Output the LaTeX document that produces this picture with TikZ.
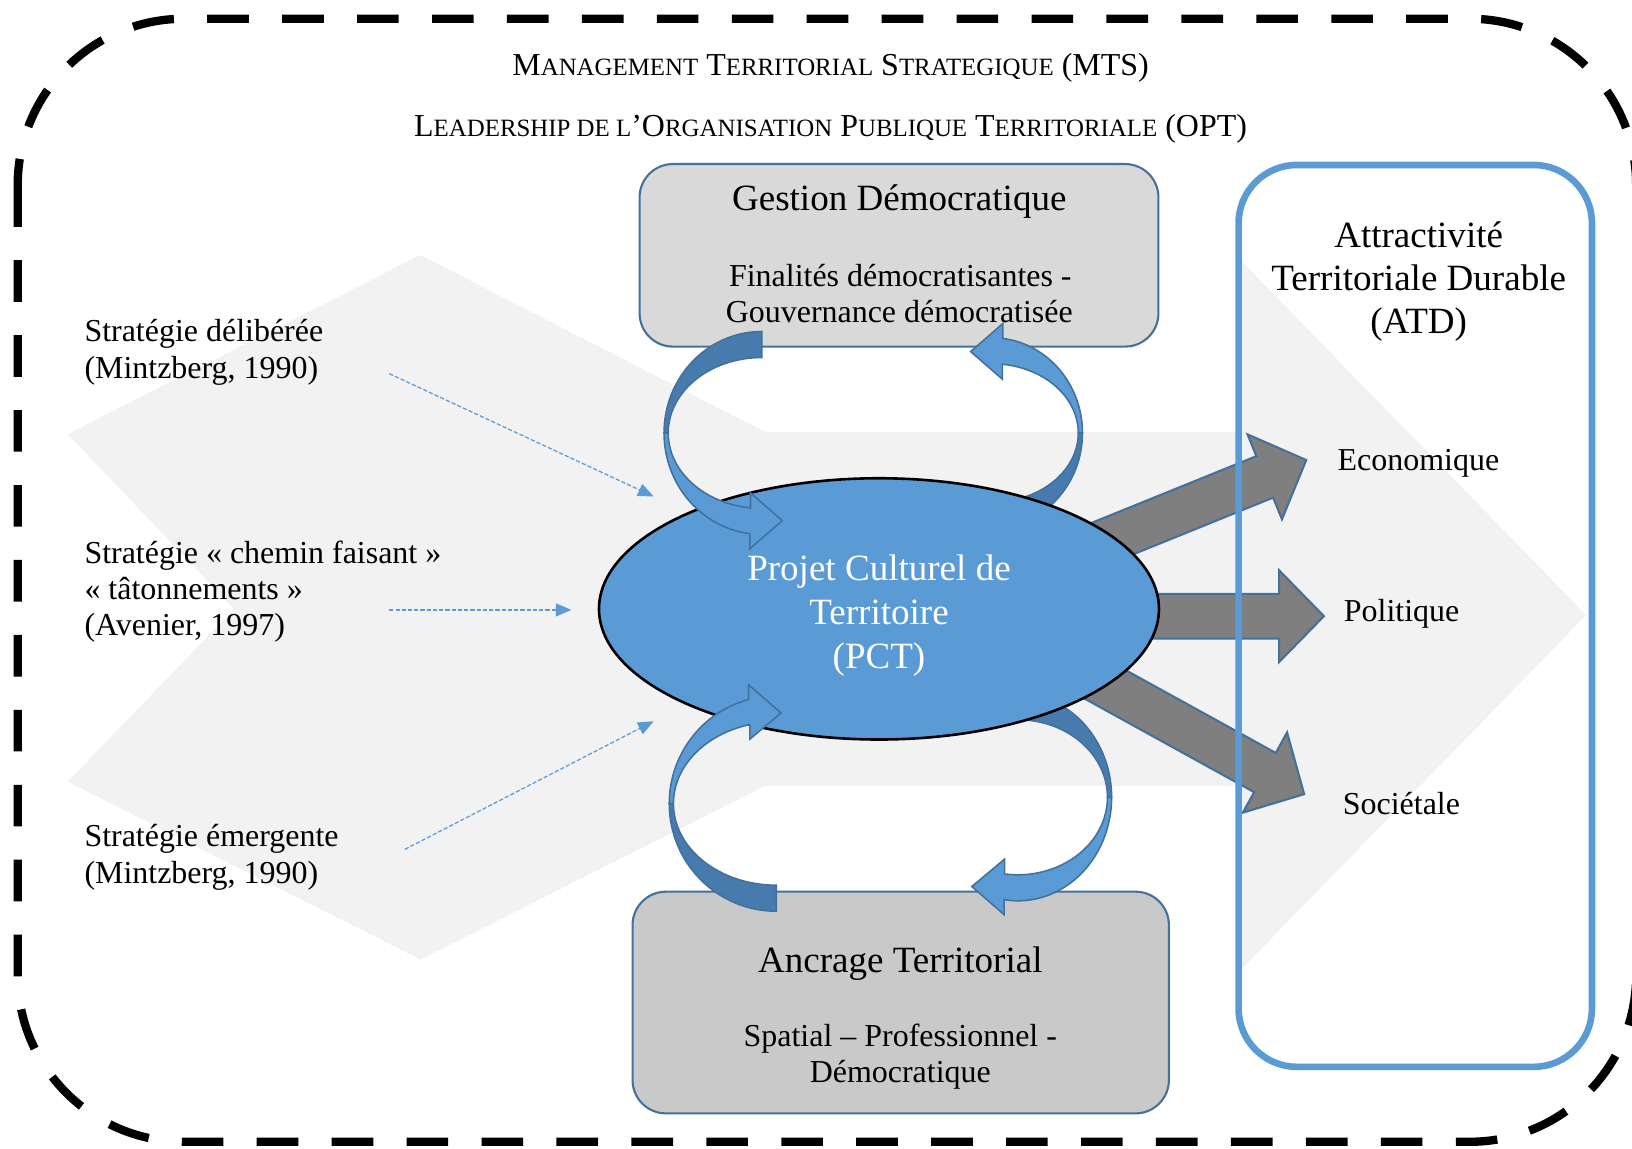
\documentclass[tikz,border=0pt]{standalone}
\usepackage{fontspec}
\setmainfont{Liberation Serif}
\usetikzlibrary{arrows.meta,calc,shapes.geometric}

\definecolor{bleu}{HTML}{5B9BD5}
\definecolor{bleufonce}{HTML}{41719C}
\definecolor{bleudos}{HTML}{477BAE}
\definecolor{fond}{HTML}{F2F2F2}
\definecolor{gris}{HTML}{7F7F7F}
\definecolor{grisclair}{HTML}{D9D9D9}
\definecolor{grismoyen}{HTML}{C9C9C9}

% petites capitales faites a la main
\newcommand\pc[1]{{\fontsize{23.9}{28}\selectfont #1}}

% grosse fleche grise : depart, pointe
\newcommand\flechebloc[2]{%
  \coordinate (hb) at ($(#2)!43pt!(#1)$);
  \filldraw[bloc] ($(#1)!21.5pt!90:(#2)$) -- ($(hb)!21.5pt!-90:(#1)$)
    -- ($(hb)!44pt!-90:(#1)$) -- (#2) -- ($(hb)!44pt!90:(#1)$)
    -- ($(hb)!21.5pt!90:(#1)$) -- ($(#1)!21.5pt!-90:(#2)$) -- cycle;
}

% fleche courbe : rayon x, rayon y, angle de la pointe
\newcommand\flechecourbe[3]{%
  \pgfmathsetmacro\rxo{#1+2}\pgfmathsetmacro\ryo{#2+12.5}%
  \pgfmathsetmacro\rxi{#1-2}\pgfmathsetmacro\ryi{#2-12.5}%
  \pgfmathsetmacro\ryho{#2+27}\pgfmathsetmacro\ryhi{#2-27}%
  \filldraw[dos] (-90:{\rxo} and {\ryo})
      arc[start angle=-90, end angle=-180, x radius=\rxo, y radius=\ryo]
      -- (180:{\rxi} and {\ryi})
      arc[start angle=180, end angle=270, x radius=\rxi, y radius=\ryi] -- cycle;
  \filldraw[face] (180:{\rxo} and {\ryo})
      arc[start angle=180, end angle=#3, x radius=\rxo, y radius=\ryo]
      -- (#3:{\rxo} and {\ryho}) -- ++(31,-27) -- (#3:{\rxi} and {\ryhi})
      -- (#3:{\rxi} and {\ryi})
      arc[start angle=#3, end angle=180, x radius=\rxi, y radius=\ryi] -- cycle;
}

\begin{document}
\begin{tikzpicture}[x=1pt, y=-1pt,
  body/.style={font=\fontsize{30.7}{35}\selectfont, inner sep=0pt, anchor=base},
  big/.style={font=\fontsize{35.6}{41}\selectfont, inner sep=0pt, anchor=base},
  gbox/.style={draw=bleufonce, line width=2, rounded corners=32, inner sep=0pt},
  bloc/.style={fill=gris, draw=bleufonce, line width=2},
  dos/.style={fill=bleudos, draw=bleufonce, line width=1.5},
  face/.style={fill=bleu, draw=bleufonce, line width=1.5},
  tirets/.style={draw=bleu, line width=1.2, dash pattern=on 4pt off 2pt,
    -{Triangle[length=15pt, width=12.5pt]}}]
  \useasboundingbox (0,0) rectangle (1568,1103);
  \clip (0,0) rectangle (1568,1103);

  % fond gris
  \fill[fond] (404,245) -- (735,415) -- (1192,415) -- (1192,250) -- (1524,591)
    -- (1192,932) -- (1192,755) -- (735,755) -- (404,922) -- (65,751)
    -- (225,585) -- (65,417) -- cycle;
  % cadre
  \draw[line width=8, dash pattern=on 40pt off 32pt, rounded corners=160]
    (17,18) rectangle (1572,1097);

  % titres
  \node[body] (mts) at (798,73)
    {M\pc{ANAGEMENT} T\pc{ERRITORIAL} S\pc{TRATEGIQUE} (MTS)};
  \node[body] (opt) at (798,131)
    {L\pc{EADERSHIP DE L}’O\pc{RGANISATION} P\pc{UBLIQUE} T\pc{ERRITORIALE} (OPT)};

  % strategies
  \node[body, anchor=base west] (delib1) at (81,328.5) {Stratégie délibérée};
  \node[body, anchor=base west] (delib2) at (81,363.5) {(Mintzberg, 1990)};
  \node[body, anchor=base west] (chemin1) at (81,541) {Stratégie « chemin faisant »};
  \node[body, anchor=base west] (chemin2) at (81,576) {« tâtonnements »};
  \node[body, anchor=base west] (chemin3) at (81,611) {(Avenier, 1997)};
  \node[body, anchor=base west] (emerg1) at (81,813.5) {Stratégie émergente};
  \node[body, anchor=base west] (emerg2) at (81,848.5) {(Mintzberg, 1990)};
  \coordinate (d1) at (374,359);
  \coordinate (f1) at (628,477);
  \coordinate (d2) at (374,586);
  \coordinate (f2) at (549,586);
  \coordinate (d3) at (389,816);
  \coordinate (f3) at (628,693);
  \draw[tirets] (d1) -- (f1);
  \draw[tirets] (d2) -- (f2);
  \draw[tirets] (d3) -- (f3);

  % boites
  \node[gbox, fill=grisclair, minimum width=498.5, minimum height=175.4]
    (gestion) at (863.75,245.3) {};
  \node[big] (gestionT) at (864,202.5) {Gestion Démocratique};
  \node[body] (gestionL1) at (865,275) {Finalités démocratisantes -};
  \node[body] (gestionL2) at (864,310) {Gouvernance démocratisée};
  \node[gbox, fill=grismoyen, minimum width=515.3, minimum height=213]
    (ancrage) at (865.4,963.2) {};
  \node[big] (ancrageT) at (865,934) {Ancrage Territorial};
  \node[body] (ancrageL1) at (865,1005) {Spatial – Professionnel -};
  \node[body] (ancrageL2) at (865,1040) {Démocratique};

  % fleches vers l'ATD
  \coordinate (sEco) at (880,594);
  \coordinate (pEco) at (1255,442);
  \coordinate (sPol) at (880,592);
  \coordinate (pPol) at (1272,592);
  \coordinate (sSoc) at (903,570);
  \coordinate (pSoc) at (1253,763);
  \flechebloc{sEco}{pEco}
  \flechebloc{sPol}{pPol}
  \flechebloc{sSoc}{pSoc}

  % boucles derriere le PCT
  \begin{scope}[shift={(953,416)}, rotate=180]
    \flechecourbe{85}{79}{97}
  \end{scope}
  \begin{scope}[shift={(978,766)}, xscale=-1]
    \flechecourbe{88}{87}{81.5}
  \end{scope}

  % PCT
  \node[ellipse, fill=bleu, draw=black, line width=2.5, inner sep=0pt,
    minimum width=538, minimum height=251] (pct) at (844.5,585) {};
  \node[big, text=white] (pctL1) at (844.5,558) {Projet Culturel de};
  \node[big, text=white] (pctL2) at (844.5,600) {Territoire};
  \node[big, text=white] (pctL3) at (844.5,642) {(PCT)};

  % boucles devant le PCT
  \begin{scope}[shift={(732,416)}]
    \flechecourbe{92}{85}{97}
  \end{scope}
  \begin{scope}[shift={(746,772)}, yscale=-1]
    \flechecourbe{101}{91}{105}
  \end{scope}

  % ATD
  \node[draw=bleu, line width=6.4, rounded corners=56, inner sep=0pt,
    minimum width=339.5, minimum height=866.5] (atd) at (1359.75,591.75) {};
  \node[big] (atdL1) at (1363,238) {Attractivité};
  \node[big] (atdL2) at (1363,279.5) {Territoriale Durable};
  \node[big] (atdL3) at (1363,320.5) {(ATD)};
  \node[body, anchor=base west] (eco) at (1285,452.5) {Economique};
  \node[body, anchor=base west] (pol) at (1291,597) {Politique};
  \node[body, anchor=base west] (soc) at (1290,782.5) {Sociétale};
\end{tikzpicture}
\end{document}
